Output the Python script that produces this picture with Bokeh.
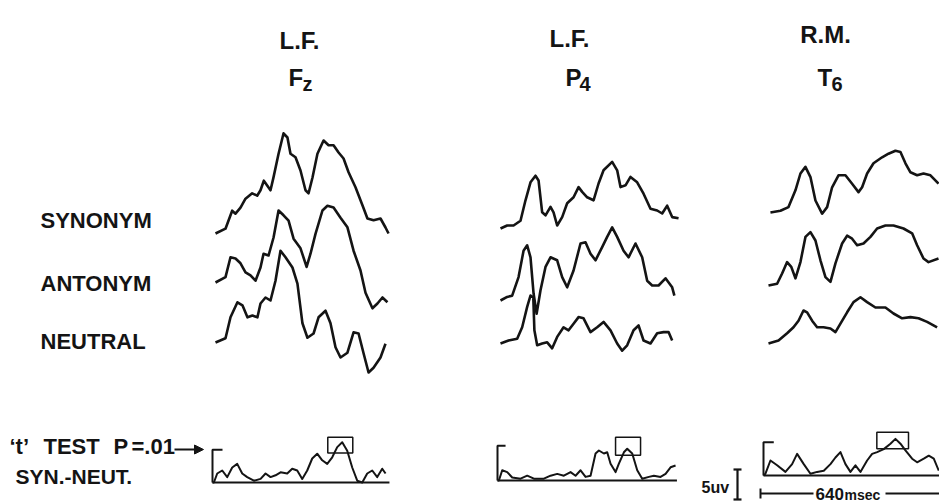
from bokeh.plotting import figure
from bokeh.models import Range1d, Label, Arrow, NormalHead
from bokeh.embed import file_html
from bokeh.resources import INLINE

# ---------------- data (time in ms, amplitude in uV) ----------------
ELECTRODES = ["F", "P", "T"]
ELECTRODE_SUB = ["z", "4", "6"]
REGIONS = ["L.F.", "L.F.", "R.M."]
CONDITIONS = ["SYNONYM", "ANTONYM", "NEUTRAL"]

# Fz
FZ_SYN_T = [0, 36, 60, 72, 90, 108, 132, 150, 162, 174, 186, 198, 209, 227, 245, 259, 270, 288,
            306, 324, 335, 349, 367, 389, 407, 425, 443, 461, 479, 504, 529, 547, 569, 594, 612, 623]
FZ_SYN_V = [0, 0.8, 3.8, 3.3, 4.3, 5.8, 6.7, 6.3, 7.2, 8.8, 8.0, 7.2, 9.4, 13.3, 16.7, 16.0, 13.3, 12.7,
            10.5, 7.2, 6.7, 9.3, 13.3, 15.5, 14.7, 14.7, 13.5, 12.5, 10.2, 7.7, 4.7, 2.5, 2.2, 2.5, 1.0, 0.0]
FZ_ANT_T = [0, 36, 54, 72, 90, 108, 126, 144, 162, 173, 191, 209, 227, 245, 263, 281, 306, 328,
            342, 360, 385, 403, 425, 450, 475, 497, 522, 540, 565, 583, 601, 619]
FZ_ANT_V = [0, 0.9, 4.2, 4.0, 3.2, 1.7, 1.2, 0.3, 2.5, 4.8, 4.5, 7.5, 12.0, 11.2, 10.3, 7.3, 5.7, 2.6,
            4.8, 8.1, 12.0, 12.8, 12.5, 10.8, 9.2, 5.3, 2.0, -1.7, -4.3, -3.5, -2.5, -3.3]
FZ_NEU_T = [0, 36, 54, 79, 97, 115, 133, 151, 162, 180, 198, 216, 234, 252, 277, 295, 313, 331,
            353, 371, 396, 414, 432, 450, 475, 497, 515, 533, 551, 569, 594, 612]
FZ_NEU_V = [0, 0.7, 4.2, 6.7, 6.2, 4.2, 4.5, 4.2, 6.5, 7.5, 7.0, 10.3, 15.3, 14.2, 12.5, 9.8, 3.2, 0.8,
            1.5, 4.2, 5.3, 3.2, -0.8, -2.5, -1.7, 1.7, 1.5, -1.8, -5.0, -4.2, -2.5, -0.2]

# P4
P4_SYN_T = [0, 24, 47, 72, 90, 108, 126, 137, 150, 162, 180, 191, 204, 222, 240, 263, 281, 294,
            312, 335, 353, 371, 402, 420, 432, 450, 468, 492, 515, 540, 564, 582, 600, 618, 641]
P4_SYN_V = [0, 0.5, 0.5, 1.3, 4.7, 7.7, 8.8, 8.0, 2.7, 2.2, 3.6, 2.7, 0.5, 1.9, 4.2, 5.2, 6.9, 6.1,
            5.2, 4.7, 7.5, 9.7, 11.1, 9.7, 6.9, 7.2, 8.6, 7.7, 5.8, 3.3, 3.0, 2.5, 3.8, 1.9, 1.7]
P4_ANT_T = [0, 24, 42, 65, 83, 96, 108, 119, 130, 144, 162, 180, 204, 222, 240, 263, 288, 306,
            324, 342, 366, 384, 402, 420, 443, 461, 486, 510, 528, 546, 569, 594, 618, 626]
P4_ANT_V = [0, 0.6, 0.8, 3.9, 8.3, 9.2, 7.2, 1.2, -2.2, 1.7, 5.6, 7.2, 6.7, 3.9, 2.2, 5.0, 9.5, 9.7,
            7.8, 6.7, 8.9, 10.6, 12.2, 10.6, 8.3, 7.2, 9.5, 7.2, 3.3, 2.5, 2.5, 3.7, 2.2, 0.8]
P4_NEU_T = [0, 29, 60, 78, 96, 108, 118, 122, 132, 150, 168, 186, 204, 227, 245, 263, 281, 299,
            324, 348, 371, 396, 420, 438, 456, 479, 497, 515, 540, 564, 587, 605, 618]
P4_NEU_V = [0, 0.5, 0.8, 2.7, 6.1, 8.0, 7.7, 2.2, -0.3, 0, 0.2, -0.8, 1.1, 2.7, 2.2, 3.3, 4.4, 4.2,
            1.9, 2.7, 3.6, 2.2, 0, -1.2, -0.3, 2.2, 3.0, 0.5, 0, 1.7, 1.9, 1.9, 0.5]

# T6
T6_SYN_T = [7, 43, 72, 97, 115, 133, 151, 169, 193, 211, 229, 252, 277, 301, 324, 337, 355, 378,
            409, 432, 457, 475, 493, 511, 535, 558, 583, 612]
T6_SYN_V = [0, 0.3, 0.9, 3.7, 6.5, 7.6, 5.9, 2.0, -0.2, 0.9, 4.2, 6.2, 6.2, 4.8, 3.4, 4.2, 6.5, 8.2,
            9.2, 9.8, 10.3, 10.1, 8.2, 6.7, 6.2, 6.5, 6.2, 4.8]
T6_ANT_T = [0, 31, 49, 67, 82, 97, 115, 133, 151, 169, 187, 205, 223, 241, 265, 283, 301, 319,
            342, 367, 391, 421, 450, 486, 517, 535, 558, 576, 612]
T6_ANT_V = [0, 0.3, 2.0, 3.9, 3.1, 1.2, 3.9, 8.1, 8.9, 7.5, 4.2, 1.4, 0.6, 3.7, 7.0, 8.3, 7.8, 6.7,
            7.0, 8.1, 9.5, 10.0, 10.0, 9.5, 8.7, 6.7, 4.5, 3.9, 4.5]
T6_NEU_T = [0, 36, 67, 90, 108, 126, 139, 157, 175, 198, 223, 241, 259, 283, 306, 331, 355, 385,
            421, 450, 481, 511, 540, 571, 607]
T6_NEU_V = [0, 0.5, 1.7, 2.7, 3.8, 5.5, 5.2, 3.8, 2.7, 2.7, 2.5, 1.9, 3.3, 5.2, 6.9, 7.7, 6.9, 6.0,
            6.0, 5.0, 4.2, 4.4, 4.2, 3.6, 2.7]

# 't' test (SYN.-NEUT.), drawn in uV-equivalent display units
FZ_TT_T = [0, 5, 17, 35, 53, 71, 89, 107, 125, 149, 173, 191, 209, 227, 245, 269, 287, 305, 323,
           341, 359, 377, 395, 413, 431, 449, 467, 485, 503, 521, 539, 557, 575, 593, 611, 623]
FZ_TT_V = [0, 0, 1.5, 2.0, 0.9, 2.5, 3.1, 1.5, 0.9, 0.3, 0.6, 1.5, 0.9, 1.2, 1.7, 1.5, 2.3, 2.0, 0.6,
           2.0, 4.0, 4.8, 3.7, 3.1, 4.2, 5.9, 6.7, 5.3, 2.5, 0.3, 0, 1.5, 2.0, 0.9, 2.3, 1.5]
P4_TT_T = [0, 5, 17, 35, 53, 83, 107, 131, 167, 191, 215, 239, 263, 281, 299, 317, 335, 353, 365,
           383, 395, 407, 425, 437, 455, 467, 485, 503, 521, 545, 563, 587, 605, 623, 641]
P4_TT_V = [0, 0, 1.7, 1.4, 0.5, 0.3, 0.8, 0.3, 0.3, 0.8, 1.1, 0.8, 1.4, 0.8, 1.7, 0.6, 0.8, 4.5, 5.0,
           4.5, 4.7, 2.8, 1.4, 2.8, 4.7, 5.3, 4.5, 1.7, 0.3, 0.6, 0.8, 0.6, 1.1, 2.2, 2.5]
T6_TT_T = [0, 7, 25, 49, 79, 103, 121, 145, 169, 193, 217, 241, 259, 277, 295, 313, 331, 349, 373,
           391, 409, 433, 457, 475, 493, 511, 535, 553, 577, 595, 613, 631]
T6_TT_V = [0, 0.3, 2.5, 1.7, 0.6, 1.9, 3.6, 1.9, 0.3, 0.6, 0.8, 1.9, 3.0, 3.9, 1.9, 0.6, 1.7, 0.6, 2.5,
           3.6, 3.9, 4.4, 5.3, 6.1, 5.3, 4.2, 2.8, 2.2, 2.8, 3.3, 2.8, 0.8]

P01_LEVEL = [5.45, 5.8, 5.55]          # t level for P = .01 (bracket height)
BASELINE_END = [637, 646, 680]          # ms
SIG_START = [415, 425, 408]             # significant window (ms)
SIG_END = [505, 515, 522]
SIG_LOW = [4.9, 4.2, 4.45]
SIG_HIGH = [7.55, 7.2, 7.2]

SCALE_UV = 5
SCALE_MS = 640

ERP = [[(FZ_SYN_T, FZ_SYN_V), (FZ_ANT_T, FZ_ANT_V), (FZ_NEU_T, FZ_NEU_V)],
       [(P4_SYN_T, P4_SYN_V), (P4_ANT_T, P4_ANT_V), (P4_NEU_T, P4_NEU_V)],
       [(T6_SYN_T, T6_SYN_V), (T6_ANT_T, T6_ANT_V), (T6_NEU_T, T6_NEU_V)]]
TT = [(FZ_TT_T, FZ_TT_V), (P4_TT_T, P4_TT_V), (T6_TT_T, T6_TT_V)]

# ---------------- layout (page pixels) ----------------
W, H = 939, 504
ORIGIN_X, ORIGIN_Y = 0, 0
MS_PER_PX = 3.6
UV_PER_PX = 1 / 6.0


def xd(px):
    return (px - ORIGIN_X) * MS_PER_PX


def yd(py):
    return (ORIGIN_Y + H - py) * UV_PER_PX


COL_X0 = [215, 500, 768]
ROW_BASE = [[233, 282, 342], [228, 300, 343], [212, 285, 343]]
TT_X0 = [212, 497, 763]
TT_BASE = [482, 480, 475]
BRACKET_W = [36, 29, 37]

INK = "#141414"
FONT = "Liberation Sans"

p = figure(width=W, height=H, x_range=Range1d(0, W * MS_PER_PX), y_range=Range1d(0, H * UV_PER_PX),
           output_backend="svg", toolbar_location=None, x_axis_location=None, y_axis_location=None,
           min_border=0)
p.grid.visible = False
p.outline_line_color = None
p.background_fill_color = "white"
p.border_fill_color = "white"

# ERP traces
for c in range(3):
    for r in range(3):
        t, v = ERP[c][r]
        x0 = xd(COL_X0[c])
        b = yd(ROW_BASE[c][r])
        p.line([x0 + ti for ti in t], [b + vi for vi in v], line_color=INK, line_width=2.6,
               line_join="round")

# t-test panels
for c in range(3):
    x0 = xd(TT_X0[c])
    b = yd(TT_BASE[c])
    t, v = TT[c]
    p.line([x0 + ti for ti in t], [b + vi for vi in v], line_color=INK, line_width=2.0,
           line_join="round")
    # baseline
    p.line([x0, x0 + BASELINE_END[c]], [b, b], line_color=INK, line_width=2.2)
    # P = .01 bracket
    p.line([x0 + BRACKET_W[c], x0, x0], [b + P01_LEVEL[c], b + P01_LEVEL[c], b],
           line_color=INK, line_width=2.0)
    # significance box
    p.quad(left=[x0 + SIG_START[c]], right=[x0 + SIG_END[c]], bottom=[b + SIG_LOW[c]],
           top=[b + SIG_HIGH[c]], fill_color=None, line_color=INK, line_width=1.5)


def lab(px, py, text, size, align="left", baseline="middle"):
    p.add_layout(Label(x=xd(px), y=yd(py), text=text, text_font=FONT, text_font_size=f"{size}px",
                       text_font_style="bold", text_color=INK, text_align=align,
                       text_baseline=baseline))


# column headers
HEAD_CX = [299, 569, 825]
HEAD_BL = [40, 38, 34]
SUB_X = [288, 565, 817]
for c in range(3):
    lab(HEAD_CX[c], HEAD_BL[c], REGIONS[c], 24, "center", "alphabetic")
    lab(SUB_X[c], 77, ELECTRODES[c], 24, "left", "alphabetic")
    lab(SUB_X[c] + 14, 83, ELECTRODE_SUB[c], 20, "left", "alphabetic")

# row labels
ROW_LABEL_Y = [220, 283, 341]
for r in range(3):
    lab(40, ROW_LABEL_Y[r], CONDITIONS[r], 22)

# t-test label
lab(9, 446, "\u2018t\u2019", 22)
lab(43, 446, "TEST", 22)
lab(113, 446, "P", 22)
lab(131, 446, "=.01", 22)
lab(15, 476, "SYN.-NEUT.", 21)
p.add_layout(Arrow(end=NormalHead(size=9, fill_color=INK, line_color=INK, line_width=1),
                   x_start=xd(174), y_start=yd(449), x_end=xd(203), y_end=yd(449),
                   line_color=INK, line_width=2.2))

# 5 uV scale bar
sb_x = xd(737)
sb_b = yd(499)
p.line([sb_x, sb_x], [sb_b, sb_b + SCALE_UV], line_color=INK, line_width=2.2)
p.line([sb_x - 4 * MS_PER_PX, sb_x + 4 * MS_PER_PX], [sb_b + SCALE_UV] * 2, line_color=INK, line_width=2.2)
p.line([sb_x - 4 * MS_PER_PX, sb_x + 4 * MS_PER_PX], [sb_b] * 2, line_color=INK, line_width=2.2)
lab(701, 487, f"{SCALE_UV}uv", 16)

# 640 msec time bar
tb_x = xd(760)
tb_y = yd(493)
p.line([tb_x, tb_x], [tb_y - 5 * UV_PER_PX, tb_y + 5 * UV_PER_PX], line_color=INK, line_width=2.0)
p.line([tb_x, xd(813)], [tb_y, tb_y], line_color=INK, line_width=2.0)
p.line([xd(885), tb_x + SCALE_MS + 40], [tb_y, tb_y], line_color=INK, line_width=2.0)
lab(815, 493, f"{SCALE_MS}", 17, "left", "middle")
lab(844, 494, "msec", 14, "left", "middle")

open("out.html", "w").write(file_html(p, INLINE))
